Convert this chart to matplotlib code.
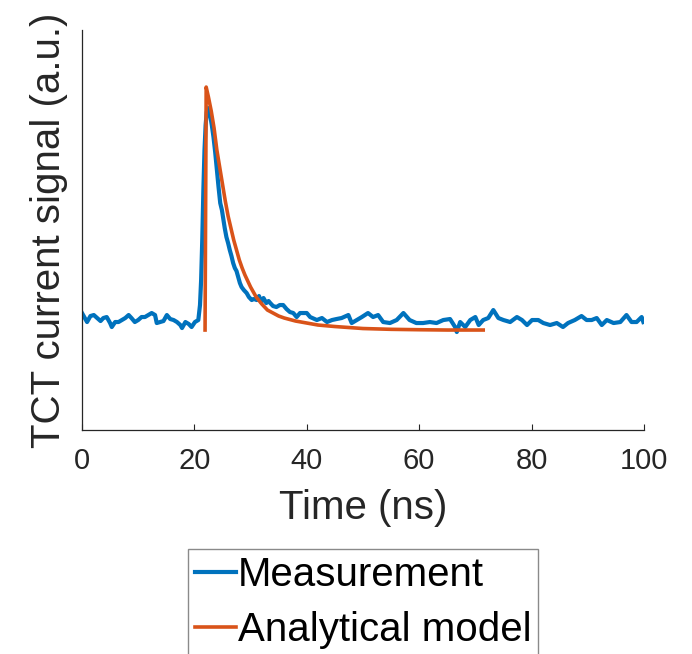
import matplotlib
matplotlib.use("Agg")
import matplotlib.pyplot as plt

plt.rcParams['font.family'] = ['Liberation Sans', 'DejaVu Sans']

# Measurement (time in ns, signal in a.u.)
meas_t = [0.0, 0.5, 0.9, 1.5, 2.1, 2.7, 3.3, 3.8, 4.4, 5.0, 5.3, 5.9, 6.5, 7.1, 7.7,
          8.3, 8.8, 9.4, 10.0, 10.6, 11.2, 11.8, 12.4, 13.0, 13.3, 13.9, 14.5, 15.1,
          15.7, 16.3, 16.9, 17.5, 17.8, 18.4, 19.0, 19.5, 20.1, 20.7, 21.0, 21.2,
          21.4, 21.6, 21.8, 22.0, 22.2, 22.5, 22.8, 23.1, 23.4, 23.7, 24.0, 24.3,
          24.6, 24.9, 25.1, 25.4, 25.7, 26.0, 26.3, 26.6, 26.9, 27.2, 27.5, 27.8,
          28.1, 28.4, 28.8, 29.3, 29.7, 30.2, 30.6, 31.1, 31.5, 31.9, 32.3, 32.8,
          33.2, 33.5, 34.0, 34.6, 35.2, 35.8, 36.4, 37.0, 37.6, 37.9, 38.2, 38.8,
          40.0, 40.6, 41.8, 42.7, 43.6, 44.5, 45.3, 46.2, 47.4, 48.0, 48.9, 49.8,
          50.9, 51.8, 52.7, 53.6, 54.8, 56.0, 57.2, 58.3, 59.5, 60.7, 61.9, 63.1,
          64.3, 65.5, 66.4, 66.7, 67.3, 68.2, 69.1, 70.0, 70.6, 71.4, 72.3, 73.2,
          74.1, 75.0, 76.2, 77.4, 78.3, 79.2, 80.1, 81.2, 82.1, 83.3, 84.5, 85.6,
          86.5, 87.7, 88.9, 89.8, 90.7, 91.6, 92.5, 93.4, 94.6, 95.8, 96.9, 97.8,
          98.7, 99.6, 99.9]
meas_y = [17, 12, 8, 14, 15, 12, 9, 12, 13, 7, 3, 8, 8, 10, 12,
          15, 12, 8, 10, 13, 13, 15, 17, 15, 7, 8, 9, 15,
          11, 10, 8, 5, 2, 8, 6, 3, 8, 10, 25, 50,
          90, 140, 180, 205, 218, 222, 215, 205, 193, 178, 160, 143,
          127, 120, 113, 102, 93, 87, 80, 74, 67, 62, 59, 53,
          47, 43, 40, 37, 33, 30, 31, 30, 34, 28, 32, 27,
          29, 27, 24, 23, 25, 25, 21, 18, 17, 15, 13, 17,
          17, 13, 10, 12, 8, 10, 11, 12, 15, 7, 10, 13,
          17, 13, 15, 8, 7, 10, 17, 10, 7, 7, 8, 7,
          10, 11, 3, -2, 8, 3, 10, 13, 5, 10, 12, 20,
          12, 10, 8, 13, 10, 5, 10, 10, 7, 5, 7, 3,
          7, 10, 14, 10, 10, 12, 5, 10, 7, 8, 15, 8,
          8, 13, 8]

# Analytical model
model_t = [21.9, 22.1, 22.5, 23.0, 23.5, 24.0, 24.5, 25.0, 25.5, 26.0, 26.5, 27.0,
           27.5, 28.0, 28.5, 29.0, 29.5, 30.0, 31.0, 32.0, 33.0, 34.0, 35.0, 36.0,
           38.0, 40.0, 42.0, 45.0, 50.0, 55.0, 60.0, 65.0, 71.4]
model_y = [0, 243, 233, 219, 202, 180, 163, 146, 129, 114, 102, 90,
           80, 70, 62, 55, 49, 43, 33, 26, 20, 17, 14, 12,
           9, 7, 5, 3.5, 1.5, 0.7, 0.3, 0, 0]

fig = plt.figure(figsize=(6.92, 6.54), dpi=100)
ax = fig.add_axes([0.1185, 0.3425, 0.812, 0.6115])

ax.plot(meas_t, meas_y, color='#0072BD', lw=3.0, label='Measurement')
ax.plot(model_t, model_y, color='#D95319', lw=2.6, label='Analytical model')

ax.set_xlim(0, 100)
ax.set_ylim(-100, 300)
ax.set_xticks([0, 20, 40, 60, 80, 100])
ax.set_yticks([])
ax.tick_params(axis='x', direction='in', length=4, width=0.8, pad=12,
               labelsize=21, colors='#262626')
for s in ['top', 'right']:
    ax.spines[s].set_visible(False)
for s in ['left', 'bottom']:
    ax.spines[s].set_color('#262626')
    ax.spines[s].set_linewidth(0.9)

ax.set_xlabel('Time (ns)', fontsize=29, color='#262626', labelpad=10)
ax.set_ylabel('TCT current signal (a.u.)', fontsize=29, color='#262626', labelpad=10)

leg = ax.legend(loc='upper left', bbox_to_anchor=(188 / 692, 1 - 549 / 654),
                bbox_transform=fig.transFigure, fontsize=29, frameon=True,
                fancybox=False, edgecolor='#8a8a8a', framealpha=1,
                handlelength=1.0, handletextpad=0.05, borderpad=0.18,
                labelspacing=0.42, borderaxespad=0)
leg.get_frame().set_linewidth(1.0)

fig.savefig('out.png', dpi=100, facecolor='white')
